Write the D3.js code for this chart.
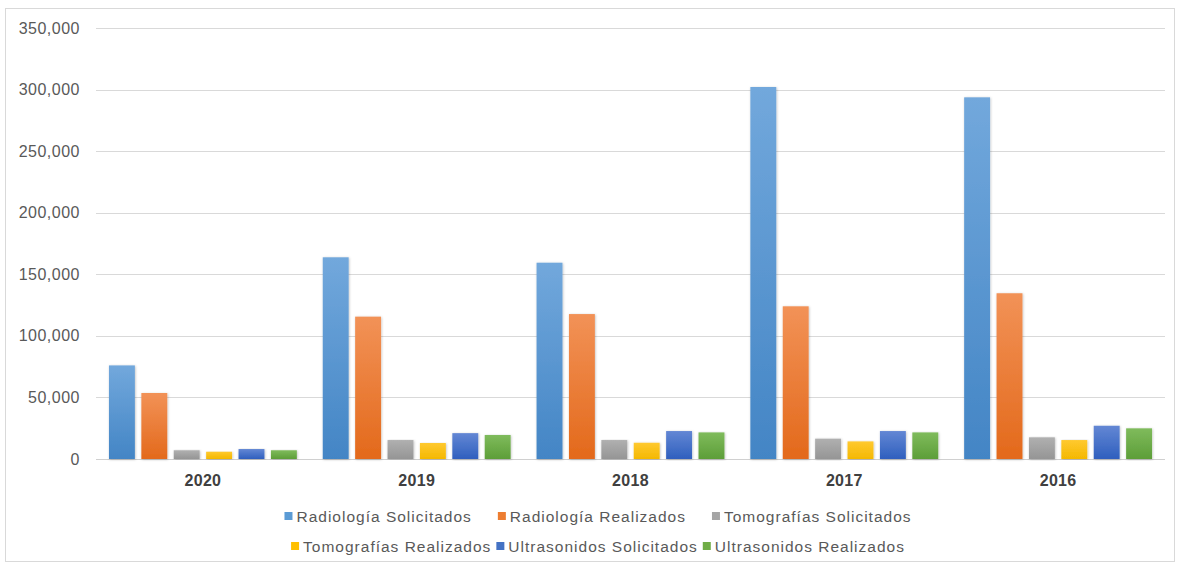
<!DOCTYPE html>
<html><head><meta charset="utf-8">
<script src="https://cdn.jsdelivr.net/npm/d3@7"></script>
<style>body{margin:0;background:#fff;} svg{display:block;font-family:"Liberation Sans",Arial,sans-serif;}</style>
</head><body>
<svg id="c" width="1177" height="563"></svg>
<script>
const years = ["2020","2019","2018","2017","2016"];
const seriesNames = ["Radiología Solicitados","Radiología Realizados","Tomografías Solicitados","Tomografías Realizados","Ultrasonidos Solicitados","Ultrasonidos Realizados"];
const radiologiaSolicitados = [76000,163800,159400,302100,293700];
const radiologiaRealizados  = [53600,115600,117700,124000,134600];
const tomografiasSolicitados = [7100,15400,15400,16500,17600];
const tomografiasRealizados  = [5900,13000,13200,14300,15400];
const ultrasonidosSolicitados = [8100,21000,22700,22700,27000];
const ultrasonidosRealizados  = [7100,19500,21600,21600,24900];
const yTicks = [0,50000,100000,150000,200000,250000,300000,350000];
const seriesValues = [radiologiaSolicitados,radiologiaRealizados,tomografiasSolicitados,tomografiasRealizados,ultrasonidosSolicitados,ultrasonidosRealizados];
const colorsTop =    ["#72a8dc","#f29257","#b0b0b0","#ffc930","#6387d4","#7fbb5c"];
const colorsBottom = ["#4385c5","#e3691b","#959595","#f4b800","#2f5fbe","#5d9e38"];
const legendColors = ["#5b9bd5","#ed7d31","#a5a5a5","#ffc000","#4472c4","#70ad47"];

const svg = d3.select("#c");
const mLeft=96,mRight=1165,mTop=28,mBottom=459;

svg.append("rect").attr("x",5.5).attr("y",8.5).attr("width",1169).attr("height",553)
  .attr("fill","#fff").attr("stroke","#d9d9d9");

const defs = svg.append("defs");
seriesNames.forEach((s,i)=>{
  const g = defs.append("linearGradient").attr("id","g"+i).attr("x1",0).attr("y1",0).attr("x2",0).attr("y2",1);
  g.append("stop").attr("offset","0%").attr("stop-color",colorsTop[i]);
  g.append("stop").attr("offset","100%").attr("stop-color",colorsBottom[i]);
});
const f = defs.append("filter").attr("id","sh").attr("x","-20%").attr("y","-5%").attr("width","140%").attr("height","110%");
f.append("feDropShadow").attr("dx",0.6).attr("dy",0.6).attr("stdDeviation",0.8).attr("flood-color","#000").attr("flood-opacity",0.25);

const y = d3.scaleLinear().domain([0,350000]).range([mBottom,mTop]);
const x0 = d3.scaleBand().domain(years).range([mLeft,mRight]).padding(0);
const x1 = d3.scaleBand().domain(seriesNames).range([0,x0.bandwidth()]).paddingInner(0.2).paddingOuter(0.4);

// gridlines
svg.append("g").selectAll("line").data(yTicks).join("line")
  .attr("x1",mLeft).attr("x2",mRight).attr("y1",d=>Math.round(y(d))+0.5).attr("y2",d=>Math.round(y(d))+0.5)
  .attr("stroke",d=>d===0?"#d0d0d0":"#d9d9d9").attr("stroke-width",1);

// y labels
const fmt = d3.format(",");
svg.append("g").selectAll("text").data(yTicks).join("text")
  .attr("x",80).attr("y",d=>y(d)+5.5).attr("text-anchor","end")
  .attr("font-size",16).attr("fill","#595959").attr("letter-spacing",0.5).text(d=>fmt(d));

// bars
const groups = svg.append("g").selectAll("g").data(years).join("g")
  .attr("transform",d=>`translate(${x0(d)},0)`);
groups.selectAll("rect").data((d,yi)=>seriesNames.map((s,si)=>({s,si,v:seriesValues[si][yi]}))).join("rect")
  .attr("x",d=>x1(d.s)).attr("width",x1.bandwidth())
  .attr("y",d=>y(d.v)).attr("height",d=>y(0)-y(d.v))
  .attr("fill",d=>`url(#g${d.si})`).attr("filter","url(#sh)");

// category labels
svg.append("g").selectAll("text").data(years).join("text")
  .attr("x",d=>x0(d)+x0.bandwidth()/2).attr("y",486).attr("text-anchor","middle")
  .attr("font-size",16).attr("font-weight","bold").attr("fill","#404040").attr("letter-spacing",0.3).text(d=>d);

// legend
const rows = [[0,1,2],[3,4,5]];
const rowY = [522,552];
const rowGap = [26,5];
const cx = 598;
rows.forEach((r,ri)=>{
  const g = svg.append("g");
  let xpos = 0;
  r.forEach((si,k)=>{
    const it = g.append("g").attr("transform",`translate(${xpos},0)`);
    it.append("rect").attr("x",0).attr("y",rowY[ri]-10).attr("width",8).attr("height",8).attr("fill",legendColors[si]);
    const t = it.append("text").attr("x",12).attr("y",rowY[ri]).attr("font-size",15.5)
      .attr("fill","#595959").attr("letter-spacing",1.0).text(seriesNames[si]);
    const w = 12 + t.node().getComputedTextLength();
    xpos += w + (k<r.length-1?rowGap[ri]:0);
  });
  g.attr("transform",`translate(${cx - xpos/2},0)`);
});
</script>
</body></html>
